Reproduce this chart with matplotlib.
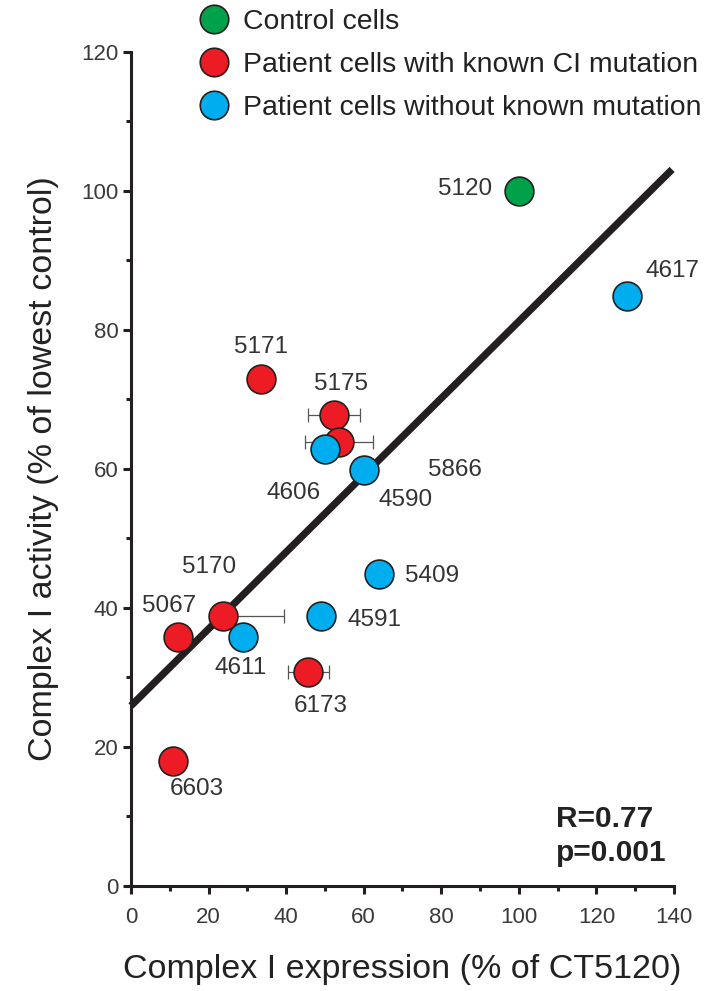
import matplotlib
matplotlib.use("Agg")
import matplotlib.pyplot as plt
from matplotlib.lines import Line2D
from matplotlib.ticker import MultipleLocator

plt.rcParams['font.family'] = ['Liberation Sans', 'DejaVu Sans']

# cell line data
cell_ids = ['5120', '4617', '5171', '5175', '5866', '4606', '4590',
            '5409', '4591', '4611', '5170', '5067', '6173', '6603']
groups = ['control', 'unknown', 'mutation', 'mutation', 'mutation', 'unknown', 'unknown',
          'unknown', 'unknown', 'unknown', 'mutation', 'mutation', 'mutation', 'mutation']
expression = [100, 128, 33.6, 52.3, 53.6, 50.1, 60.2, 63.9, 49.1, 28.9, 23.6, 12.0, 45.7, 10.9]
activity = [100, 84.8, 72.9, 67.8, 63.8, 62.8, 59.8, 44.9, 38.8, 35.8, 38.8, 35.8, 30.8, 17.9]
# horizontal error bars (lower, upper), 0 where none
xerr_low = [0, 0, 0, 6.7, 8.7, 0, 0, 0, 0, 0, 0, 0, 5.3, 0]
xerr_up = [0, 0, 0, 6.7, 8.7, 0, 0, 0, 0, 0, 15.8, 0, 5.3, 0]
# label offsets in pixels from the point centre
label_dx = [-54, 45, 0, 7, 116, -32, 41, 53, 53, -2, -13, -8, 13, 24]
label_dy = [2, 25, 32, 31, -28, -44, -30, -2, -4, -31, 49, 31, -34, -28]

# regression line
fit_intercept = 25.9
fit_slope = 0.553
fit_xmax = 139.5

colors = {'control': '#00A14B', 'mutation': '#ED1C24', 'unknown': '#00AEEF'}
legend_labels = {'control': 'Control cells',
                 'mutation': 'Patient cells with known CI mutation',
                 'unknown': 'Patient cells without known mutation'}
edge = '#231F20'

fig = plt.figure(figsize=(7.08, 9.91), dpi=100)
ax = fig.add_axes([0.185, 0.106, 0.767, 0.842])

ax.plot([0, fit_xmax], [fit_intercept, fit_intercept + fit_slope * fit_xmax],
        color=edge, lw=5.2, solid_capstyle='butt', zorder=2, clip_on=False)

for i in range(len(cell_ids)):
    x, y = expression[i], activity[i]
    if xerr_low[i] > 0 or xerr_up[i] > 0:
        ax.errorbar([x], [y], xerr=[[xerr_low[i]], [xerr_up[i]]], fmt='none',
                    ecolor='#555555', elinewidth=0.9, capsize=5, capthick=0.9, zorder=3)
    ax.scatter([x], [y], s=430, color=colors[groups[i]], edgecolors=edge,
               linewidths=1.2, zorder=4 + i, clip_on=False)
    ax.annotate(cell_ids[i], (x, y), xytext=(label_dx[i], label_dy[i]),
                textcoords='offset pixels', ha='center', va='center',
                fontsize=17.5, color='#333333')

ax.set_xlim(0, 140)
ax.set_ylim(0, 120)
ax.xaxis.set_major_locator(MultipleLocator(20))
ax.xaxis.set_minor_locator(MultipleLocator(10))
ax.yaxis.set_major_locator(MultipleLocator(20))
ax.yaxis.set_minor_locator(MultipleLocator(10))
for side in ['top', 'right']:
    ax.spines[side].set_visible(False)
for side in ['left', 'bottom']:
    ax.spines[side].set_linewidth(2.2)
    ax.spines[side].set_color(edge)
ax.tick_params(which='major', direction='out', length=6, width=2.2, color=edge,
               labelsize=16, labelcolor='#3a3a3a', pad=4)
ax.tick_params(axis='x', which='major', pad=9)
ax.tick_params(axis='y', which='major', pad=3)
ax.tick_params(which='minor', direction='out', length=3.5, width=2.2, color=edge)

ax.set_xlabel('Complex I expression (% of CT5120)', fontsize=24.5, color='#222222', labelpad=19)
ax.set_ylabel('Complex I activity (% of lowest control)', fontsize=24.5, color='#222222', labelpad=16)

ax.text(109.6, 8.45, 'R=0.77', fontsize=21.5, fontweight='bold', color='#222222',
        ha='left', va='baseline')
ax.text(109.6, 3.6, 'p=0.001', fontsize=21.5, fontweight='bold', color='#222222',
        ha='left', va='baseline')

order = ['control', 'mutation', 'unknown']
handles = [Line2D([], [], marker='o', ls='none', markersize=20.5, markerfacecolor=colors[g],
                  markeredgecolor=edge, markeredgewidth=1.2) for g in order]
fig.legend(handles, [legend_labels[g] for g in order],
           loc='upper left', bbox_to_anchor=(200 / 708, 1 - 9 / 991), frameon=False,
           fontsize=20.4, handletextpad=0.52, labelspacing=0.6, borderpad=0,
           borderaxespad=0, handlelength=1.0, labelcolor='#222222')

fig.savefig('out.png', dpi=100)
